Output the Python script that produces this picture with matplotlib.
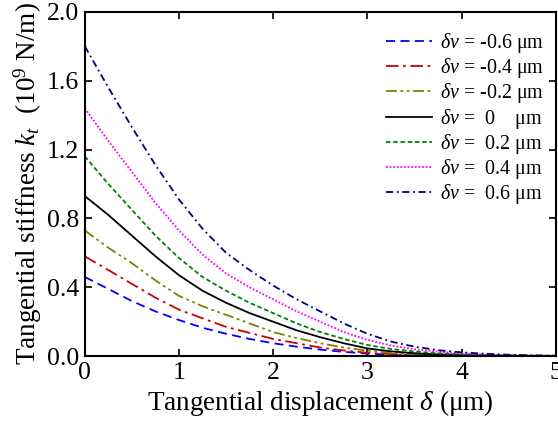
import matplotlib
matplotlib.use('Agg')
import matplotlib.pyplot as plt

plt.rcParams['font.family'] = ['Liberation Serif', 'DejaVu Serif']
plt.rcParams['mathtext.fontset'] = 'custom'
plt.rcParams['mathtext.rm'] = 'Liberation Serif'
plt.rcParams['mathtext.it'] = 'Liberation Serif:italic'

# tangential displacement (um)
delta = [0.0, 0.25, 0.5, 0.75, 1.0, 1.25, 1.5, 1.75, 2.0, 2.25, 2.5,
         2.75, 3.0, 3.25, 3.5, 3.75, 4.0, 4.25, 4.5, 4.75, 5.0]

# tangential stiffness (1e9 N/m), one list per normal offset
k_m06 = [0.46, 0.39, 0.32, 0.26, 0.21, 0.165, 0.13, 0.10, 0.075, 0.055, 0.038,
         0.025, 0.015, 0.009, 0.005, 0.003, 0.0015, 0.001, 0.0005, 0.0003, 0.0]
k_m04 = [0.58, 0.50, 0.42, 0.34, 0.27, 0.22, 0.17, 0.135, 0.10, 0.075, 0.05,
         0.033, 0.02, 0.012, 0.007, 0.004, 0.002, 0.001, 0.0007, 0.0004, 0.0]
k_m02 = [0.73, 0.63, 0.54, 0.44, 0.35, 0.29, 0.24, 0.19, 0.14, 0.105, 0.075,
         0.05, 0.032, 0.019, 0.011, 0.006, 0.003, 0.002, 0.001, 0.0005, 0.0]
k_0   = [0.93, 0.82, 0.70, 0.58, 0.47, 0.38, 0.31, 0.25, 0.20, 0.15, 0.11,
         0.075, 0.045, 0.028, 0.017, 0.010, 0.006, 0.003, 0.002, 0.001, 0.0]
k_p02 = [1.16, 1.00, 0.85, 0.70, 0.57, 0.46, 0.38, 0.31, 0.25, 0.19, 0.14,
         0.10, 0.065, 0.042, 0.027, 0.017, 0.011, 0.007, 0.004, 0.002, 0.001]
k_p04 = [1.44, 1.25, 1.07, 0.89, 0.73, 0.59, 0.48, 0.40, 0.33, 0.26, 0.20,
         0.14, 0.095, 0.062, 0.040, 0.026, 0.016, 0.010, 0.006, 0.004, 0.002]
k_p06 = [1.80, 1.56, 1.33, 1.11, 0.91, 0.74, 0.60, 0.50, 0.41, 0.33, 0.26,
         0.19, 0.13, 0.085, 0.055, 0.035, 0.022, 0.014, 0.008, 0.005, 0.003]

labels = [r'$\delta v$ = -0.6 μm', r'$\delta v$ = -0.4 μm', r'$\delta v$ = -0.2 μm',
          r'$\delta v$ =  0    μm', r'$\delta v$ =  0.2 μm', r'$\delta v$ =  0.4 μm',
          r'$\delta v$ =  0.6 μm']

series = [k_m06, k_m04, k_m02, k_0, k_p02, k_p04, k_p06]
colors = ['#0000ff', '#cc0000', '#808000', '#000000', '#008000', '#ff00ff', '#000080']
styles = [(0, (5, 3)), (0, (7, 2.5, 1.5, 2.5)), (0, (6, 2, 1.5, 2, 1.5, 2)), '-',
          (0, (2.5, 1.5)), (0, (1, 1)), (0, (4, 2, 1, 2))]

fig = plt.figure(figsize=(5.58, 4.23), dpi=100)
ax = fig.add_axes([0.152, 0.158, 0.844, 0.814])

for y, c, ls, lab in zip(series, colors, styles, labels):
    ax.plot(delta, y, color=c, ls=ls, lw=1.3, label=lab)

ax.set_xlim(0, 5)
ax.set_ylim(0, 2.0)
ax.set_xticks([0, 1, 2, 3, 4, 5])
ax.set_yticks([0.0, 0.4, 0.8, 1.2, 1.6, 2.0])
ax.set_yticklabels(['0.0', '0.4', '0.8', '1.2', '1.6', '2.0'])
ax.tick_params(direction='in', top=True, right=True, length=5, width=1.2,
               labelsize=18.5, pad=4)
for s in ax.spines.values():
    s.set_linewidth(1.5)

ax.set_xlabel(r'Tangential displacement $\delta$ (μm)', fontsize=19.5, labelpad=3)
ax.set_ylabel(r'Tangential stiffness $k_t$  (10$^9$ N/m)', fontsize=19.5, labelpad=2)

ax.legend(loc='upper right', frameon=False, fontsize=14.4, handlelength=2.3,
          handletextpad=0.4, labelspacing=0.06, borderaxespad=0.3,
          bbox_to_anchor=(1.006, 0.985))

fig.savefig('out.png', dpi=100)
